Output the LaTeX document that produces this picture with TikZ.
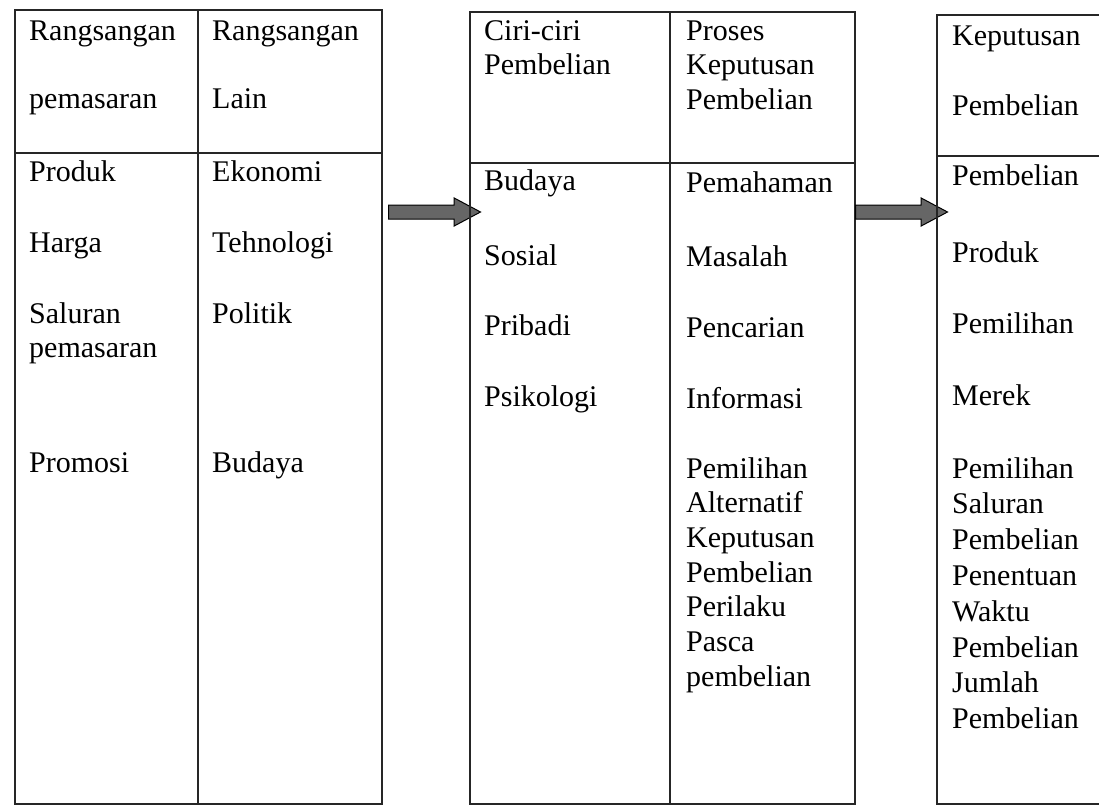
\documentclass[tikz,border=0pt]{standalone}
\usepackage{fontspec}
\setmainfont{Liberation Serif}
\usetikzlibrary{shapes.arrows}
\tikzset{
  cell/.style={anchor=base west, inner sep=0pt, align=left, font=\fontsize{30}{34.7}\selectfont},
  frame/.style={line width=1.5pt, draw=black!85},
  blockarrow/.style={single arrow, anchor=tail, draw=black, fill=black!60, line width=1pt, minimum height=92pt, inner xsep=0pt, inner ysep=6.5pt, single arrow head extend=7pt, single arrow tip angle=56}
}

\begin{document}
\begin{tikzpicture}[x=1pt,y=-1pt]
			%%%%% START %%%%%
			\clip (0,0) rectangle (1099,806);
			\fill[white] (0,0) rectangle (1099,806);
			
			% rangsangan
			\draw[frame] (15,10) rectangle (382,804);
			\draw[frame] (198,10) -- (198,804);
			\draw[frame] (15,153) -- (382,153);
			
			\node[cell] (rp1) at (29,40) {Rangsangan};
			\node[cell] (rp2) at (29,108) {pemasaran};
			\node[cell] (produk) at (29,181) {Produk};
			\node[cell] (harga) at (29,252) {Harga};
			\node[cell] (saluran) at (29,357.7) {Saluran\\pemasaran};
			\node[cell] (promosi) at (29,472) {Promosi};
			
			\node[cell] (rl1) at (212,40) {Rangsangan};
			\node[cell] (rl2) at (212,108) {Lain};
			\node[cell] (ekonomi) at (212,181) {Ekonomi};
			\node[cell] (tehno) at (212,252) {Tehnologi};
			\node[cell] (politik) at (212,323) {Politik};
			\node[cell] (budaya1) at (212,472) {Budaya};
			
			\node[blockarrow] (arrA) at (388,212) {};
			
			% ciri-ciri dan proses
			\draw[frame] (470,12) rectangle (855,804);
			\draw[frame] (670,12) -- (670,804);
			\draw[frame] (470,163) -- (855,163);
			
			\node[cell] (ciri) at (484,74.7) {Ciri-ciri\\Pembelian};
			\node[cell] (budaya2) at (484,190) {Budaya};
			\node[cell] (sosial) at (484,265) {Sosial};
			\node[cell] (pribadi) at (484,335) {Pribadi};
			\node[cell] (psiko) at (484,406) {Psikologi};
			
			\node[cell] (proses) at (686,109.4) {Proses\\Keputusan\\Pembelian};
			\node[cell] (paham) at (686,192) {Pemahaman};
			\node[cell] (masalah) at (686,266) {Masalah};
			\node[cell] (cari) at (686,337) {Pencarian};
			\node[cell] (info) at (686,408) {Informasi};
			\node[cell] (alt) at (686,686.2) {Pemilihan\\Alternatif\\Keputusan\\Pembelian\\Perilaku\\Pasca\\pembelian};
			
			\node[blockarrow] (arrB) at (855,212) {};
			
			% keputusan
			\draw[frame] (937,15) rectangle (1110,804);
			\draw[frame] (937,156) -- (1110,156);
			
			\node[cell] (kp1) at (952,45) {Keputusan};
			\node[cell] (kp2) at (952,115) {Pembelian};
			\node[cell] (beli) at (952,185) {Pembelian};
			\node[cell] (produk2) at (952,262) {Produk};
			\node[cell] (pilih) at (952,333) {Pemilihan};
			\node[cell] (merek) at (952,405) {Merek};
			\node[cell, font=\fontsize{30}{35.8}\selectfont] (saluran2) at (952,728.6) {Pemilihan\\Saluran\\Pembelian\\Penentuan\\Waktu\\Pembelian\\Jumlah\\Pembelian};
			
			%%%%% END %%%%%
\end{tikzpicture}
\end{document}
